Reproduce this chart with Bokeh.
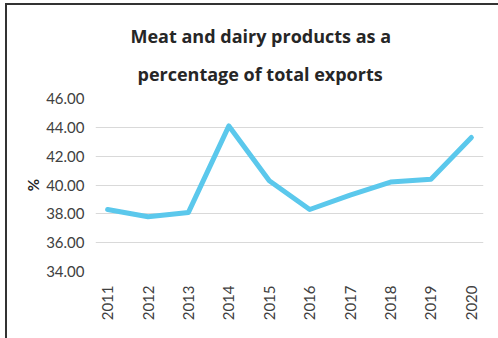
from bokeh.plotting import figure
from bokeh.models import FixedTicker, NumeralTickFormatter, Range1d, Title
from bokeh.embed import file_html
from bokeh.resources import INLINE
import math

years = [2011, 2012, 2013, 2014, 2015, 2016, 2017, 2018, 2019, 2020]
share = [38.3, 37.8, 38.1, 44.1, 40.3, 38.3, 39.3, 40.2, 40.4, 43.3]
y_ticks = [34, 36, 38, 40, 42, 44, 46]
title_line1 = "Meat and dairy products as a"
title_line2 = "percentage of total exports"

# canvas is shifted by margin (5, 3) + border (2px)
p = figure(width=491, height=333, frame_width=388, frame_height=173,
           output_backend="svg", toolbar_location=None,
           x_range=Range1d(2010.7, 2020.3), y_range=Range1d(34, 46))
p.margin = (3, 0, 0, 5)
p.styles = {"border-left": "2px solid #333333", "border-top": "2px solid #333333"}
p.min_border_left = 88
p.min_border_right = 15
p.min_border_top = 93
p.min_border_bottom = 67
p.outline_line_color = None
p.background_fill_color = "white"
p.border_fill_color = "white"

def style_title(t, offset):
    t.align = "left"
    t.offset = offset
    t.text_font = "Open Sans"
    t.text_font_style = "bold"
    t.text_font_size = "18px"
    t.text_color = "#262626"

# p.title is the outermost line; the added Title sits next to the frame
p.title.text = title_line1
style_title(p.title, 35)
p.title.standoff = 0
t2 = Title(text=title_line2)
style_title(t2, 42)
t2.standoff = 25
p.add_layout(t2, "above")

p.line(years, share, line_color="#5BC8EC", line_width=5, line_join="round", line_cap="round")

p.yaxis.ticker = FixedTicker(ticks=y_ticks)
p.yaxis.formatter = NumeralTickFormatter(format="0.00")
p.xaxis.ticker = FixedTicker(ticks=years)
p.xaxis.major_label_orientation = math.pi / 2
for ax in (p.xaxis[0], p.yaxis[0]):
    ax.axis_line_color = None
    ax.major_tick_line_color = None
    ax.minor_tick_line_color = None
    ax.major_label_text_font = "Lato"
    ax.major_label_text_font_size = "15px"
    ax.major_label_text_color = "#404040"
p.yaxis.major_label_standoff = 5
p.xaxis.major_label_standoff = 8
p.yaxis.axis_label = "%"
p.yaxis.axis_label_text_font = "Lato"
p.yaxis.axis_label_text_font_style = "bold"
p.yaxis.axis_label_text_font_size = "15px"
p.yaxis.axis_label_text_color = "#262626"
p.yaxis.axis_label_standoff = 1

p.xgrid.grid_line_color = None
p.ygrid.grid_line_color = "#d9d9d9"
p.ygrid.grid_line_width = 1

open("out.html", "w").write(file_html(p, INLINE))
